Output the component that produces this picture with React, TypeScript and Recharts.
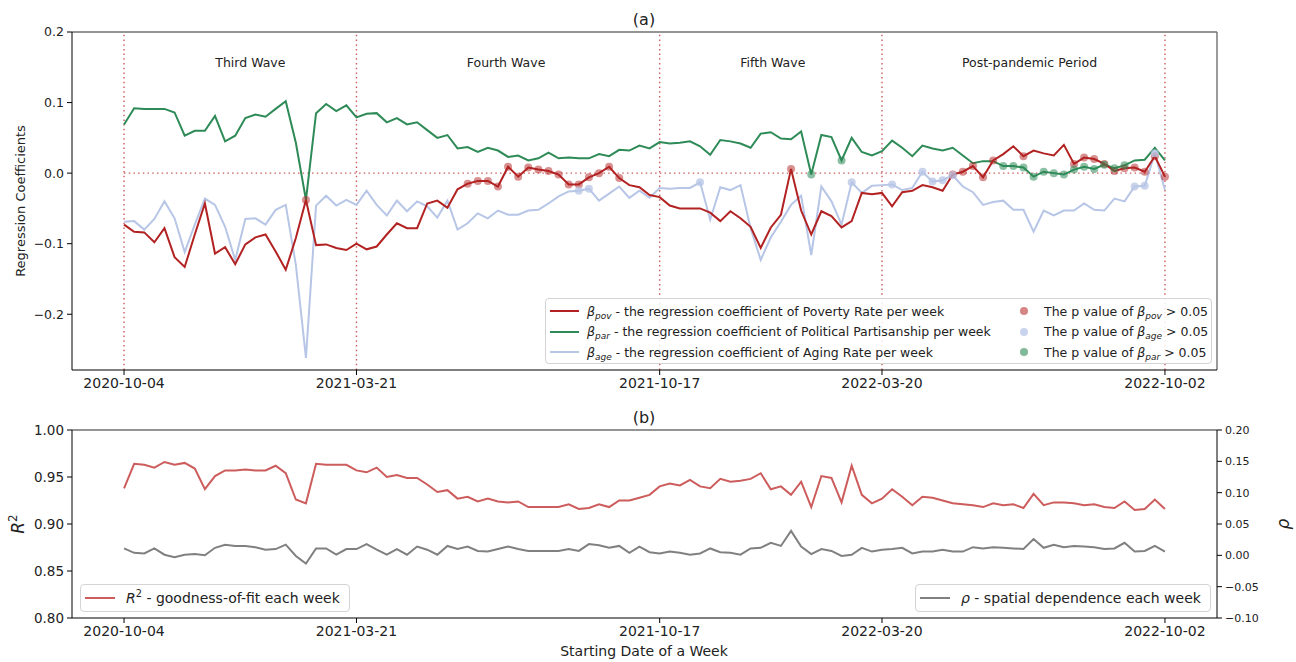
import React from 'react'
import { ComposedChart, Line, XAxis, YAxis, ReferenceLine, ReferenceDot } from 'recharts'

const FONT = '"DejaVu Sans", sans-serif'

// weekly index (0 = 2020-10-04 ... 103 = 2022-10-02)
const weekTicks = [0, 23, 53, 75, 103]
const weekTickLabels = ['2020-10-04', '2021-03-21', '2021-10-17', '2022-03-20', '2022-10-02']

const waveNames = ['Third Wave', 'Fourth Wave', 'Fifth Wave', 'Post-pandemic Period']
const waveCenters = [12.5, 37.8, 64.2, 89.6]

const betaPov = [
  -0.073, -0.083, -0.084, -0.098, -0.078, -0.119, -0.133, -0.087, -0.043, -0.114,
  -0.105, -0.129, -0.101, -0.091, -0.087, -0.111, -0.137, -0.092, -0.038, -0.102,
  -0.101, -0.106, -0.109, -0.100, -0.108, -0.104, -0.087, -0.071, -0.078, -0.078,
  -0.043, -0.039, -0.049, -0.023, -0.015, -0.011, -0.011, -0.019, 0.009, -0.005,
  0.008, 0.005, 0.003, -0.002, -0.016, -0.016, -0.006, 0.000, 0.009, -0.007,
  -0.017, -0.020, -0.031, -0.034, -0.046, -0.050, -0.050, -0.050, -0.056, -0.068,
  -0.054, -0.064, -0.076, -0.106, -0.077, -0.059, 0.006, -0.053, -0.087, -0.054,
  -0.061, -0.077, -0.068, -0.028, -0.030, -0.028, -0.047, -0.027, -0.025, -0.017,
  -0.020, -0.025, -0.002, 0.002, 0.010, -0.006, 0.018, 0.027, 0.038, 0.024,
  0.032, 0.028, 0.025, 0.040, 0.013, 0.022, 0.020, 0.013, 0.003, 0.007,
  0.008, 0.002, 0.024, -0.005,
]

const betaPar = [
  0.069, 0.092, 0.091, 0.091, 0.091, 0.086, 0.053, 0.060, 0.060, 0.081,
  0.045, 0.053, 0.078, 0.083, 0.080, 0.091, 0.102, 0.043, -0.038, 0.085,
  0.098, 0.088, 0.096, 0.079, 0.084, 0.085, 0.072, 0.078, 0.069, 0.072,
  0.061, 0.050, 0.054, 0.035, 0.037, 0.030, 0.036, 0.032, 0.023, 0.025,
  0.018, 0.021, 0.029, 0.021, 0.022, 0.021, 0.021, 0.027, 0.024, 0.033,
  0.032, 0.039, 0.035, 0.044, 0.042, 0.043, 0.045, 0.038, 0.026, 0.047,
  0.045, 0.042, 0.036, 0.056, 0.058, 0.049, 0.048, 0.059, -0.002, 0.054,
  0.051, 0.018, 0.050, 0.030, 0.025, 0.031, 0.046, 0.036, 0.024, 0.039,
  0.035, 0.032, 0.036, 0.025, 0.014, 0.017, 0.017, 0.010, 0.010, 0.008,
  -0.005, 0.002, 0.000, -0.002, 0.005, 0.009, 0.006, 0.012, 0.007, 0.011,
  0.018, 0.019, 0.036, 0.018,
]

const betaAge = [
  -0.069, -0.068, -0.080, -0.065, -0.040, -0.064, -0.112, -0.073, -0.036, -0.045,
  -0.076, -0.123, -0.065, -0.064, -0.073, -0.052, -0.045, -0.130, -0.262, -0.046,
  -0.032, -0.046, -0.038, -0.045, -0.025, -0.045, -0.060, -0.039, -0.054, -0.040,
  -0.047, -0.063, -0.039, -0.080, -0.071, -0.057, -0.064, -0.053, -0.059, -0.059,
  -0.053, -0.052, -0.043, -0.033, -0.026, -0.025, -0.022, -0.039, -0.029, -0.019,
  -0.035, -0.025, -0.035, -0.021, -0.022, -0.021, -0.021, -0.013, -0.066, -0.020,
  -0.024, -0.017, -0.078, -0.123, -0.091, -0.069, -0.045, -0.032, -0.116, -0.019,
  -0.040, -0.073, -0.013, -0.028, -0.018, -0.017, -0.016, -0.024, -0.021, 0.002,
  -0.012, -0.010, -0.003, -0.019, -0.027, -0.045, -0.041, -0.039, -0.052, -0.052,
  -0.083, -0.053, -0.060, -0.053, -0.053, -0.043, -0.052, -0.053, -0.036, -0.040,
  -0.019, -0.018, 0.028, -0.024,
]

// weeks where the coefficient's p value > 0.05
const povInsignificant = [18, 34, 35, 36, 37, 38, 39, 40, 41, 42, 43, 44, 45, 46, 47, 48, 49, 66,
  82, 83, 84, 85, 86, 89, 94, 95, 96, 97, 98, 99, 100, 101, 102, 103]
const ageInsignificant = [45, 46, 57, 72, 76, 79, 80, 81, 82, 100, 101, 102]
const parInsignificant = [68, 71, 87, 88, 89, 90, 91, 92, 93, 94, 95, 96, 97, 98, 99]

const rSquared = [
  0.938, 0.964, 0.963, 0.960, 0.966, 0.963, 0.965, 0.959, 0.937, 0.951,
  0.957, 0.957, 0.958, 0.957, 0.957, 0.962, 0.954, 0.926, 0.922, 0.964,
  0.963, 0.963, 0.963, 0.957, 0.955, 0.960, 0.950, 0.952, 0.949, 0.949,
  0.942, 0.934, 0.936, 0.927, 0.929, 0.924, 0.927, 0.924, 0.923, 0.924,
  0.918, 0.918, 0.918, 0.918, 0.921, 0.916, 0.917, 0.921, 0.918, 0.925,
  0.925, 0.928, 0.931, 0.940, 0.943, 0.941, 0.947, 0.940, 0.938, 0.948,
  0.945, 0.946, 0.948, 0.954, 0.937, 0.940, 0.931, 0.945, 0.918, 0.951,
  0.949, 0.923, 0.962, 0.931, 0.922, 0.927, 0.937, 0.929, 0.920, 0.929,
  0.928, 0.925, 0.922, 0.921, 0.920, 0.918, 0.922, 0.920, 0.921, 0.917,
  0.932, 0.920, 0.923, 0.923, 0.922, 0.920, 0.921, 0.918, 0.917, 0.924,
  0.915, 0.916, 0.926, 0.916,
]

const rho = [
  0.011, 0.004, 0.003, 0.011, 0.001, -0.003, 0.001, 0.002, 0.000, 0.012,
  0.017, 0.015, 0.015, 0.013, 0.009, 0.010, 0.017, -0.001, -0.013, 0.011,
  0.011, 0.001, 0.010, 0.010, 0.018, 0.009, 0.001, 0.010, 0.001, 0.014,
  0.009, 0.001, 0.015, 0.010, 0.014, 0.007, 0.006, 0.010, 0.014, 0.010,
  0.007, 0.007, 0.007, 0.007, 0.010, 0.007, 0.018, 0.016, 0.012, 0.015,
  0.004, 0.014, 0.005, 0.003, 0.006, 0.004, 0.001, 0.003, 0.011, 0.005,
  0.004, 0.001, 0.011, 0.012, 0.020, 0.015, 0.039, 0.014, 0.002, 0.010,
  0.007, -0.001, 0.001, 0.012, 0.006, 0.009, 0.010, 0.012, 0.003, 0.006,
  0.006, 0.009, 0.006, 0.006, 0.013, 0.011, 0.013, 0.012, 0.011, 0.010,
  0.026, 0.012, 0.017, 0.013, 0.015, 0.014, 0.013, 0.010, 0.011, 0.020,
  0.006, 0.007, 0.015, 0.006,
]

const POV = '#b22222'
const PAR = '#2e8b57'
const AGE = '#b7c6e6'
const R2C = '#cd5c5c'
const RHOC = '#808080'
const GUIDE = '#cd5c5c'
const TEXT = '#222'
const FRAME = '#707070'

const coefRows = betaPov.map((v, i) => ({
  i,
  pov: v,
  par: betaPar[i],
  age: betaAge[i],
  povP: povInsignificant.includes(i) ? v : null,
  ageP: ageInsignificant.includes(i) ? betaAge[i] : null,
  parP: parInsignificant.includes(i) ? betaPar[i] : null,
}))

const fitRows = rSquared.map((v, i) => ({ i, r2: v, rho: rho[i] }))

const xDomain = [-5.15, 108.15]
const fmtWeek = (v: number) => weekTickLabels[weekTicks.indexOf(v)] ?? ''
const fmtSigned = (d: number) => (v: number) => (v < 0 ? '\u2212' : '') + Math.abs(v).toFixed(d)

const tickText = (size: number) => ({ fill: TEXT, fontSize: size, fontFamily: FONT })

const Beta = ({ sub }: { sub: string }) => (
  <span>
    <i>β</i>
    <sub style={{ fontSize: '0.72em', fontStyle: 'italic', verticalAlign: '-0.3em', lineHeight: 0 }}>{sub}</sub>
  </span>
)

function CoefLegend() {
  const lines = [
    { color: POV, sub: 'pov', text: ' - the regression coefficient of Poverty Rate per week' },
    { color: PAR, sub: 'par', text: ' - the regression coefficient of Political Partisanship per week' },
    { color: AGE, sub: 'age', text: ' - the regression coefficient of Aging Rate per week' },
  ]
  const dots = [
    { color: POV, opacity: 0.55, sub: 'pov' },
    { color: AGE, opacity: 0.75, sub: 'age' },
    { color: PAR, opacity: 0.6, sub: 'par' },
  ]
  const rowTop = [2, 22.5, 43]
  return (
    <div style={{ position: 'absolute', left: 545, top: 298, width: 667, height: 66, border: '1px solid #d4d4d4', borderRadius: 4, background: 'rgba(255,255,255,0.85)', boxSizing: 'border-box', fontSize: 12.5, color: TEXT }}>
      {lines.map((l, k) => (
        <div key={l.sub} style={{ position: 'absolute', left: 0, top: rowTop[k], height: 20, display: 'flex', alignItems: 'center', whiteSpace: 'nowrap' }}>
          <div style={{ marginLeft: 4, width: 29, height: 2, background: l.color }} />
          <div style={{ marginLeft: 8 }}><Beta sub={l.sub} />{l.text}</div>
        </div>
      ))}
      {dots.map((d, k) => (
        <div key={d.sub} style={{ position: 'absolute', left: 474, top: rowTop[k], height: 20, display: 'flex', alignItems: 'center', whiteSpace: 'nowrap' }}>
          <div style={{ width: 8, height: 8, borderRadius: 4, background: d.color, opacity: d.opacity }} />
          <div style={{ marginLeft: 16 }}>The p value of <Beta sub={d.sub} /> &gt; 0.05</div>
        </div>
      ))}
    </div>
  )
}

function FitLegend({ left, width, color, children }: { left: number; width: number; color: string; children: React.ReactNode }) {
  return (
    <div style={{ position: 'absolute', left, top: 584, width, height: 28, border: '1px solid #d4d4d4', borderRadius: 4, background: 'rgba(255,255,255,0.85)', boxSizing: 'border-box', display: 'flex', alignItems: 'center', whiteSpace: 'nowrap', fontSize: 14, color: TEXT }}>
      <div style={{ marginLeft: 4, width: 30, height: 2, background: color }} />
      <div style={{ marginLeft: 11 }}>{children}</div>
    </div>
  )
}

const label = (text: React.ReactNode, x: number, y: number, size: number, rotate = false) => (
  <div style={{ position: 'absolute', left: x, top: y, transform: `translate(-50%, -50%)${rotate ? ' rotate(-90deg)' : ''}`, fontSize: size, color: TEXT, whiteSpace: 'nowrap' }}>
    {text}
  </div>
)

export default function App() {
  return (
    <div style={{ position: 'absolute', left: 0, top: 0, width: 1296, height: 662, background: '#fff', fontFamily: FONT, overflow: 'hidden' }}>
      {/* (a) weekly regression coefficients */}
      <div style={{ position: 'absolute', left: 0, top: 0 }}>
        <ComposedChart width={1296} height={400} data={coefRows} margin={{ top: 31, right: 78, bottom: 0, left: 12 }}>
          <XAxis xAxisId="top" orientation="top" type="number" dataKey="i" domain={xDomain} allowDataOverflow height={1} tick={false} tickLine={false} axisLine={{ stroke: FRAME, strokeWidth: 1.4 }} />
          <YAxis yAxisId="right" orientation="right" type="number" domain={[-0.279, 0.2]} width={1} tick={false} tickLine={false} axisLine={{ stroke: FRAME, strokeWidth: 1.4 }} />
          <XAxis type="number" dataKey="i" domain={xDomain} allowDataOverflow ticks={weekTicks} tickFormatter={fmtWeek} height={30} tickSize={5} tickMargin={3} tick={tickText(14)} tickLine={{ stroke: '#000' }} axisLine={{ stroke: '#000' }} />
          <YAxis type="number" domain={[-0.279, 0.2]} allowDataOverflow ticks={[-0.2, -0.1, 0, 0.1, 0.2]} tickFormatter={fmtSigned(1)} width={60} tickSize={5} tickMargin={3} tick={tickText(12.5)} tickLine={{ stroke: '#000' }} axisLine={{ stroke: '#000' }} />

          {weekTicks.map((t) => (
            <ReferenceLine key={t} x={t} stroke={GUIDE} strokeWidth={1.4} strokeDasharray="1.5 3.2" />
          ))}
          <ReferenceLine segment={[{ x: weekTicks[0], y: 0 }, { x: weekTicks[weekTicks.length - 1], y: 0 }]} stroke={GUIDE} strokeWidth={1.4} strokeDasharray="1.5 3.2" />
          {waveNames.map((name, k) => (
            <ReferenceDot key={name} x={waveCenters[k]} y={0.156} r={0} fill="none" stroke="none"
              label={{ value: name, position: 'center', fill: TEXT, fontSize: 12.5, fontFamily: FONT }} />
          ))}

          <Line dataKey="age" stroke={AGE} strokeWidth={2} dot={false} activeDot={false} isAnimationActive={false} />
          <Line dataKey="par" stroke={PAR} strokeWidth={2} dot={false} activeDot={false} isAnimationActive={false} />
          <Line dataKey="pov" stroke={POV} strokeWidth={2} dot={false} activeDot={false} isAnimationActive={false} />
          <Line dataKey="povP" stroke="none" dot={{ r: 4, fill: POV, fillOpacity: 0.5, stroke: 'none' }} activeDot={false} isAnimationActive={false} />
          <Line dataKey="ageP" stroke="none" dot={{ r: 4, fill: AGE, fillOpacity: 0.75, stroke: 'none' }} activeDot={false} isAnimationActive={false} />
          <Line dataKey="parP" stroke="none" dot={{ r: 4, fill: PAR, fillOpacity: 0.55, stroke: 'none' }} activeDot={false} isAnimationActive={false} />
        </ComposedChart>
      </div>

      {/* (b) goodness of fit and spatial dependence */}
      <div style={{ position: 'absolute', left: 0, top: 400 }}>
        <ComposedChart width={1296} height={262} data={fitRows} margin={{ top: 29, right: 29, bottom: 0, left: 12 }}>
          <XAxis xAxisId="top" orientation="top" type="number" dataKey="i" domain={xDomain} allowDataOverflow height={1} tick={false} tickLine={false} axisLine={{ stroke: FRAME, strokeWidth: 1.4 }} />
          <XAxis type="number" dataKey="i" domain={xDomain} allowDataOverflow ticks={weekTicks} tickFormatter={fmtWeek} height={44} tickSize={5} tickMargin={3} tick={tickText(14)} tickLine={{ stroke: '#000' }} axisLine={{ stroke: '#000' }} />
          <YAxis yAxisId="r2" type="number" domain={[0.8, 1.0]} allowDataOverflow ticks={[0.8, 0.85, 0.9, 0.95, 1.0]} tickFormatter={(v: number) => v.toFixed(2)} width={60} tickSize={5} tickMargin={3} tick={tickText(13.5)} tickLine={{ stroke: '#000' }} axisLine={{ stroke: '#000' }} />
          <YAxis yAxisId="rho" orientation="right" type="number" domain={[-0.1, 0.2]} allowDataOverflow ticks={[-0.1, -0.05, 0, 0.05, 0.1, 0.15, 0.2]} tickFormatter={fmtSigned(2)} width={50} tickSize={5} tickMargin={3} tick={tickText(11)} tickLine={{ stroke: '#000' }} axisLine={{ stroke: '#000' }} />

          <Line yAxisId="r2" dataKey="r2" stroke={R2C} strokeWidth={2} dot={false} activeDot={false} isAnimationActive={false} />
          <Line yAxisId="rho" dataKey="rho" stroke={RHOC} strokeWidth={2} dot={false} activeDot={false} isAnimationActive={false} />
        </ComposedChart>
      </div>

      <CoefLegend />
      <FitLegend left={80} width={270} color={R2C}>
        <i>R</i><sup style={{ fontSize: '0.7em', lineHeight: 0 }}>2</sup> - goodness-of-fit each week
      </FitLegend>
      <FitLegend left={915} width={296} color={RHOC}>
        <i>ρ</i> - spatial dependence each week
      </FitLegend>

      {label('(a)', 644, 19, 16)}
      {label('(b)', 644, 417, 16)}
      {label('Regression Coefficients', 20, 201, 13, true)}
      {label(<span><i>R</i><sup style={{ fontSize: '0.7em', lineHeight: 0 }}>2</sup></span>, 18, 524, 17, true)}
      {label(<i>ρ</i>, 1283, 524, 17, true)}
      {label('Starting Date of a Week', 644, 651, 14)}
    </div>
  )
}
